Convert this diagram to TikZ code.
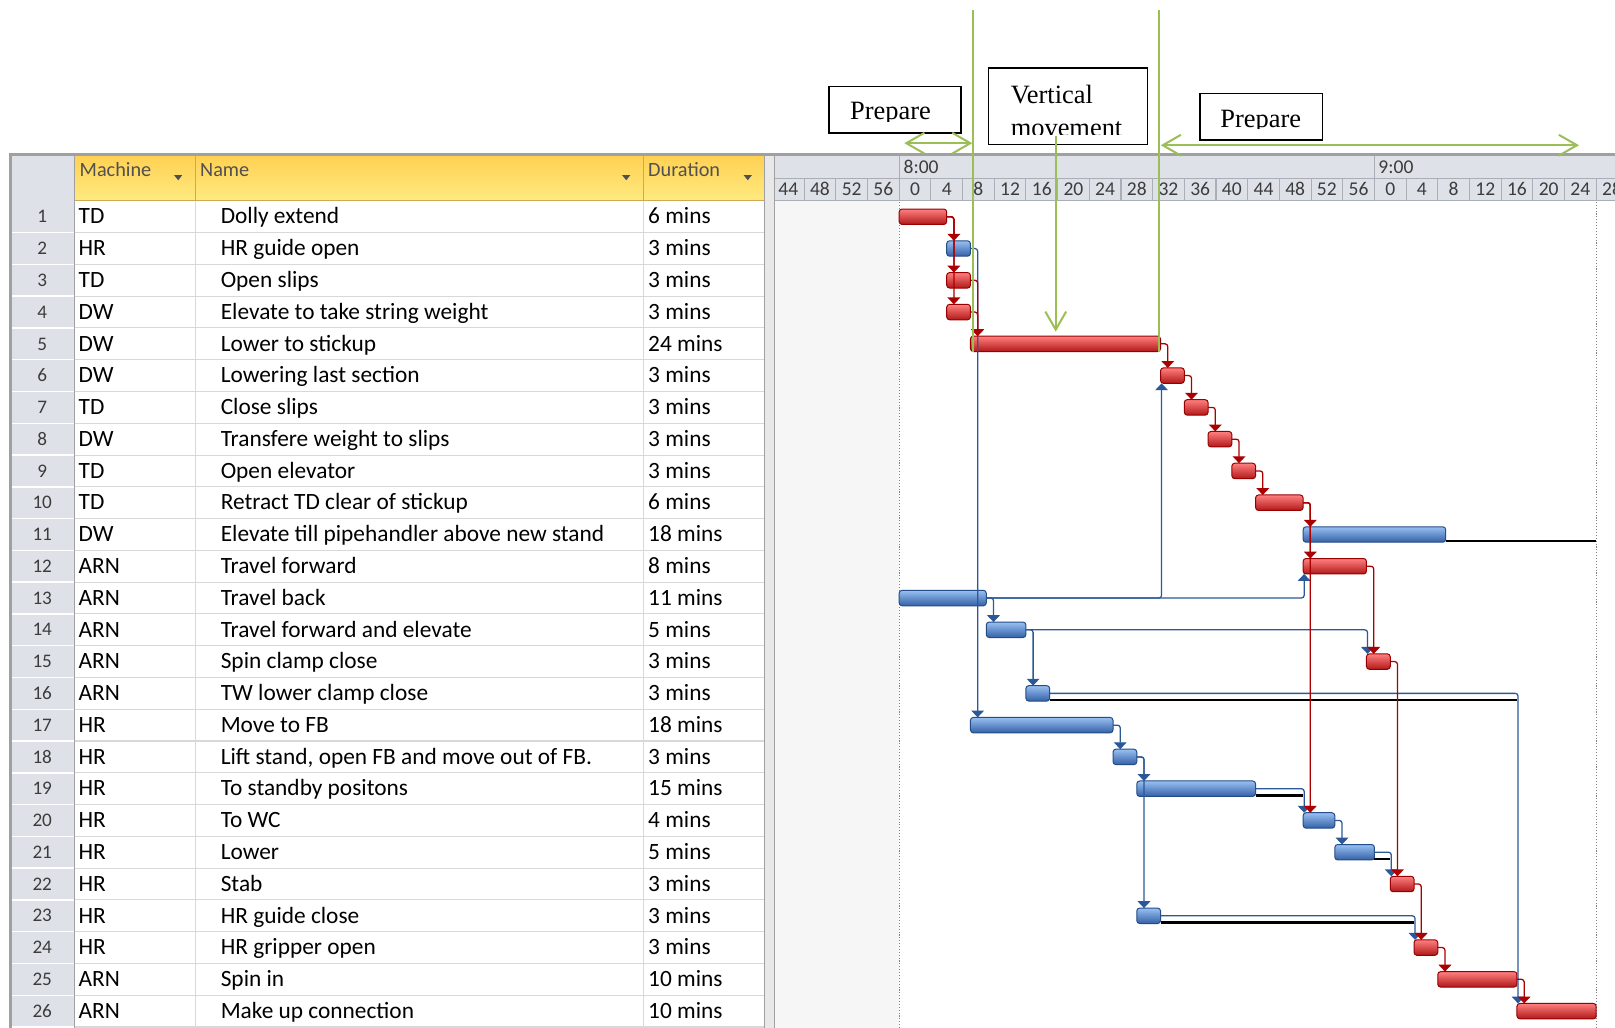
\documentclass[tikz,border=0pt]{standalone}
\usepackage{fontspec}
\setmainfont{Carlito}
\newfontfamily\boxfont{Liberation Serif}
\usepackage{tikz}
\usetikzlibrary{arrows.meta, positioning, calc}

\definecolor{crmain}{RGB}{250,82,82}
\definecolor{crtop}{RGB}{255,128,128}
\definecolor{crbot}{RGB}{178,24,24}
\definecolor{crdark}{RGB}{150,0,0}
\definecolor{cbmain}{RGB}{112,160,224}
\definecolor{cbtop}{RGB}{152,192,242}
\definecolor{cbbot}{RGB}{52,96,166}
\definecolor{cbdark}{RGB}{36,76,136}
\definecolor{linkred}{RGB}{172,0,0}
\definecolor{linkblue}{RGB}{42,88,152}
\definecolor{annotgreen}{RGB}{155,190,86}
\definecolor{gridgrey}{RGB}{216,216,216}
\definecolor{panelgrey}{RGB}{222,226,232}
\definecolor{framegrey}{RGB}{160,160,160}
\definecolor{tickline}{RGB}{170,175,182}
\definecolor{nonwork}{RGB}{246,246,246}
\definecolor{hdrtop}{RGB}{255,208,82}
\definecolor{hdrbot}{RGB}{255,234,128}
\definecolor{hdrline}{RGB}{206,168,84}
\definecolor{hdrtext}{RGB}{80,80,80}
\definecolor{numtext}{RGB}{60,60,60}

\begin{document}
\begin{tikzpicture}[x=0.02cm, y=-0.02cm,
  cell/.style={anchor=base west, inner sep=0pt, font=\fontsize{12.9}{15}\selectfont},
  rownum/.style={anchor=base, inner sep=0pt, text=numtext, font=\fontsize{10.6}{13}\selectfont},
  hdr/.style={anchor=base west, inner sep=0pt, text=hdrtext, font=\fontsize{11.2}{13}\selectfont},
  tick/.style={anchor=base, inner sep=0pt, text=numtext, font=\fontsize{10.8}{13}\selectfont},
  bar/.style={draw=#1dark, line width=0.55pt, rounded corners=1.6pt, top color=#1top, middle color=#1main,
    bottom color=#1bot, minimum height=0.3cm, inner sep=0pt, outer sep=0pt, anchor=west},
  rlink/.style={draw=linkred, line width=0.7pt, rounded corners=1.5pt, -{Triangle[width=7pt,length=3.8pt]}},
  blink/.style={draw=linkblue, line width=0.7pt, rounded corners=1.5pt, -{Triangle[width=7pt,length=3.8pt]}},
  slack/.style={draw=black, line width=1.4pt},
  annot/.style={draw=black, line width=0.75pt, fill=white, inner sep=0pt},
  boxtext/.style={anchor=base west, inner sep=0pt, font=\boxfont\fontsize{14.6}{18}\selectfont},
  gline/.style={draw=annotgreen, line width=1.1pt},
  gtip/.style={arrows={-{Straight Barb[length=10pt,width=11.5pt]}}}]
\clip (0,0) rectangle (1568,998);
\fill[white] (0,0) rectangle (1568,998);

% table background and grid
\fill[panelgrey] (10,150) rectangle (72,998);
\shade[top color=hdrtop, bottom color=hdrbot] (72,150) rectangle (742,195);
\foreach \k in {1,...,26} {
  \draw[gridgrey, line width=0.6pt] (72,195+30.85*\k) -- (742,195+30.85*\k);
  \draw[white, line width=0.8pt] (10,195+30.85*\k) -- (72,195+30.85*\k);
}
\foreach \cx in {190,625,742}
  \draw[gridgrey, line width=0.6pt] (\cx,195) -- (\cx,998);
\draw[hdrline, line width=0.6pt] (190,150) -- (190,195) (625,150) -- (625,195) (72,195) -- (742,195);
\draw[framegrey, line width=0.6pt] (72,150) -- (72,998);

% header labels
\node[hdr] (hm) at (77,171) {Machine};
\node[hdr] (hn) at (194,171) {Name};
\node[hdr] (hd) at (629,171) {Duration};
\foreach \ax in {173,608,726}
  \fill[hdrtext] (\ax-4,170) -- (\ax+4,170) -- (\ax,175) -- cycle;

% splitter and timescale
\fill[gridgrey!60] (742,150) rectangle (752,998);
\draw[framegrey, line width=0.6pt] (742,150) -- (742,998) (752,150) -- (752,998);
\fill[panelgrey] (752,150) rectangle (1568,195);
\draw[tickline, line width=0.6pt] (752,173) -- (1568,173) (752,195) -- (1568,195);
\draw[tickline, line width=0.6pt] (873,150) -- (873,173) (1334.4,150) -- (1334.4,173);
\foreach \j in {-3,...,22}
  \draw[tickline, line width=0.6pt] (873+30.76*\j,173) -- (873+30.76*\j,195);
\node[hdr, text=numtext, font=\fontsize{10.8}{13}\selectfont] (h8) at (877,168) {8:00};
\node[hdr, text=numtext, font=\fontsize{10.8}{13}\selectfont] (h9) at (1338,168) {9:00};
\foreach \j [count=\k] in {-4,...,22} {
  \pgfmathtruncatemacro{\lab}{mod(\j*4+60,60)}
  \node[tick] (tk\k) at (873+30.76*\j+15.38,190) {\lab};
}
\draw[framegrey, line width=1.5pt] (10,998) -- (10,150) -- (1568,150);

% chart area
\fill[nonwork] (752.5,195.5) rectangle (873,998);
\draw[gray, densely dotted, line width=0.6pt] (873,196) -- (873,998) (1550,196) -- (1550,998);

% rows: number / machine / name / duration / start / kind
\foreach \i/\mach/\task/\dur/\st/\kind in {
  1/TD/Dolly extend/6/0/cr,
  2/HR/HR guide open/3/6/cb,
  3/TD/Open slips/3/6/cr,
  4/DW/Elevate to take string weight/3/6/cr,
  5/DW/Lower to stickup/24/9/cr,
  6/DW/Lowering last section/3/33/cr,
  7/TD/Close slips/3/36/cr,
  8/DW/Transfere weight to slips/3/39/cr,
  9/TD/Open elevator/3/42/cr,
  10/TD/Retract TD clear of stickup/6/45/cr,
  11/DW/Elevate till pipehandler above new stand/18/51/cb,
  12/ARN/Travel forward/8/51/cr,
  13/ARN/Travel back/11/0/cb,
  14/ARN/Travel forward and elevate/5/11/cb,
  15/ARN/Spin clamp close/3/59/cr,
  16/ARN/TW lower clamp close/3/16/cb,
  17/HR/Move to FB/18/9/cb,
  18/HR/{Lift stand, open FB and move out of FB.}/3/27/cb,
  19/HR/To standby positons/15/30/cb,
  20/HR/To WC/4/51/cb,
  21/HR/Lower/5/55/cb,
  22/HR/Stab/3/62/cr,
  23/HR/HR guide close/3/30/cb,
  24/HR/HR gripper open/3/65/cr,
  25/ARN/Spin in/10/68/cr,
  26/ARN/Make up connection/10/78/cr} {
  \pgfmathsetmacro{\yc}{195+30.85*(\i-0.5)}
  \node[rownum] (n\i) at (41,\yc+6) {\i};
  \node[cell] (m\i) at (76,\yc+7) {\mach};
  \node[cell] (t\i) at (214,\yc+7) {\task};
  \node[cell] (d\i) at (629,\yc+7) {\dur\ mins};
  \node[bar=\kind, minimum width=\dur*0.1538cm] (b\i) at (873+7.69*\st,\yc) {};
}

% total slack
\draw[slack] ($(b11.south east)+(0,-1)$) -- ($(b11.south east -| b26.east)+(0,-1)$);
\draw[slack] ($(b16.south east)+(0,-1)$) -- ($(b16.south east -| b26.west)+(0,-1)$);
\draw[slack] ($(b19.south east)+(0,-1)$) -- ($(b19.south east -| b20.west)+(0,-1)$);
\draw[slack] ($(b21.south east)+(0,-1)$) -- ($(b21.south east -| b22.west)+(0,-1)$);
\draw[slack] ($(b23.south east)+(0,-1)$) -- ($(b23.south east -| b24.west)+(0,-1)$);

% links
\foreach \a/\b in {2/17,13/14,14/16,17/18,18/19,18/23,20/21}
  \draw[blink] (b\a.east) -| ($(b\b.north west)+(7,0)$);
\foreach \a/\b in {14/15,16/26,19/20,21/22,23/24}
  \draw[blink] (b\a.east) -| ($(b\b.north west)+(1,0)$);
\foreach \b in {12,6}
  \draw[blink] (b13.east) -| ($(b\b.south west)+(1,0)$);
\foreach \a/\b in {1/2,1/3,1/4,3/5,4/5,5/6,6/7,7/8,8/9,9/10,10/11,10/12,10/20,12/15,15/22,22/24,24/25,25/26}
  \draw[rlink] (b\a.east) -| ($(b\b.north west)+(7,0)$);

% annotation boxes
\node[annot, minimum width=2.56cm, minimum height=0.9cm] (prepA) at (869,106.5) {};
\begin{scope}
  \clip (806,85) rectangle (932,118);
  \node[boxtext] (prepAtext) at (825,116.5) {Prepare};
\end{scope}
\node[annot, minimum width=3.08cm, minimum height=1.48cm] (vmove) at (1037,103) {};
\begin{scope}
  \clip (961,67) rectangle (1113,131);
  \node[boxtext] (vmoveA) at (981,100) {Vertical};
  \node[boxtext] (vmoveB) at (981,132.5) {movement};
\end{scope}
\node[annot, minimum width=2.38cm, minimum height=0.9cm] (prepB) at (1224.5,113.5) {};
\begin{scope}
  \clip (1166,92) rectangle (1283,125);
  \node[boxtext] (prepBtext) at (1184.5,124) {Prepare};
\end{scope}

% green markers
\coordinate (gA) at (945,10);
\coordinate (gB) at (1125,10);
\draw[gline] (gA) -- (gA |- b5.south);
\draw[gline] (gB) -- (gB |- b5.south);
\coordinate (pA) at (878,139);
\coordinate (pB) at (1533,141);
\draw[gline, {Straight Barb[length=10pt,width=11.5pt]}-{Straight Barb[length=10pt,width=11.5pt]}] (pA) -- ($(pA -| gA)+(-1,0)$);
\draw[gline, {Straight Barb[length=10pt,width=11.5pt]}-{Straight Barb[length=10pt,width=11.5pt]}] ($(pB -| gB)+(2,0)$) -- (pB);
\coordinate (vmtop) at (1025,132);
\coordinate (vmtip) at (1025,322);
\draw[gline, gtip] (vmtop) -- (vmtip);
\end{tikzpicture}
\end{document}
